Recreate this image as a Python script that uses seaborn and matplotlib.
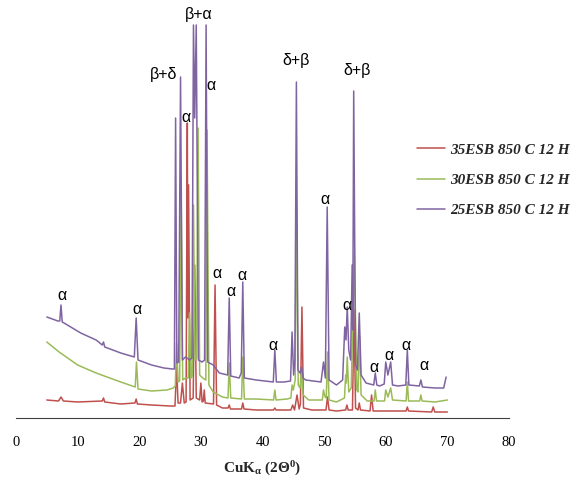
import matplotlib
matplotlib.use("Agg")
import matplotlib.pyplot as plt
from matplotlib.ticker import MultipleLocator
import pandas as pd
import seaborn as sns

# ---------------- data ----------------
samples = ["35ESB 850 C 12 H", "30ESB 850 C 12 H", "25ESB 850 C 12 H"]
colors = ["#C0504D", "#9BBB59", "#8064A2"]

# 25ESB (purple)
p_theta = [5.0, 6.8, 7.1, 7.3, 7.5, 7.8, 10.5, 13.0, 14.0, 14.2, 14.4, 17.0, 19.2, 19.5, 19.8,
           22.0, 24.0, 25.4, 25.7, 25.9, 26.1, 26.4, 26.7, 27.0, 27.5, 28.2, 28.55, 28.8, 29.0,
           29.25, 29.6, 30.2, 30.6, 30.85, 31.1, 32.0, 33.0, 34.35, 34.6, 34.85, 36.2, 36.55,
           36.8, 37.05, 39.0, 41.75, 42.0, 42.25, 43.5, 44.55, 44.8, 45.05, 45.25, 45.5, 45.75,
           46.1, 46.35, 46.6, 47.0, 49.5, 49.9, 50.2, 50.5, 50.8, 52.0, 53.0, 53.35, 53.55,
           53.75, 54.0, 54.3, 54.55, 54.65, 54.8, 55.1, 55.4, 55.7, 56.0, 56.8, 58.05, 58.3,
           58.55, 59.0, 59.75, 60.0, 60.35, 60.8, 61.1, 62.0, 63.25, 63.5, 63.75, 65.45, 65.7,
           65.95, 68.0, 69.4, 69.8]
p_int = [101, 97, 97, 113, 96, 95, 85, 78, 73, 76, 71, 65, 61, 100, 58,
         53, 50, 49, 49, 300, 55, 56, 341, 58, 61, 58, 60, 393, 300,
         393, 58, 56, 58, 393, 56, 53, 45, 43, 120, 42, 40, 45,
         136, 40, 38, 36, 68, 36, 36, 37, 86, 43, 58, 336, 48,
         45, 51, 40, 38, 36, 56, 40, 211, 38, 33, 38, 91, 78,
         111, 68, 58, 153, 88, 327, 53, 48, 105, 43, 35, 33, 45,
         33, 32, 34, 56, 43, 56, 33, 32, 33, 68, 33, 32, 38,
         31, 30, 30, 41]

# 30ESB (green)
g_theta = [5.0, 7.0, 10.0, 13.0, 17.0, 19.35, 19.55, 19.8, 22.0, 24.5, 25.5, 25.85, 26.05, 26.3,
           26.55, 26.8, 27.05, 27.5, 27.95, 28.15, 28.4, 28.6, 28.8, 29.05, 29.3, 29.55, 29.8,
           30.3, 30.8, 31.0, 31.3, 32.0, 33.5, 34.4, 34.6, 34.85, 36.6, 36.8, 37.05, 39.0, 41.8,
           42.0, 42.2, 44.0, 44.6, 44.8, 45.0, 45.3, 45.5, 45.8, 46.1, 46.3, 46.6, 47.5, 49.7,
           49.9, 50.15, 50.35, 50.55, 50.8, 52.0, 53.3, 53.5, 53.6, 53.75, 54.0, 54.4, 54.9,
           55.3, 55.5, 55.75, 56.0, 57.0, 58.1, 58.3, 58.5, 59.8, 60.0, 60.35, 60.8, 61.1, 63.3,
           63.5, 63.7, 65.5, 65.7, 65.9, 68.0, 70.0]
g_int = [76, 66, 53, 45, 36, 31, 56, 29, 27, 28, 30, 32, 75, 36,
         37, 218, 38, 40, 40, 105, 40, 42, 213, 58, 60, 290, 43,
         40, 38, 288, 33, 26, 21, 20, 55, 20, 19, 61, 19, 19, 18,
         28, 18, 19, 20, 33, 28, 38, 220, 33, 30, 48, 23, 18, 18,
         28, 21, 20, 66, 18, 16, 20, 43, 35, 61, 26, 30, 165,
         28, 26, 81, 23, 17, 17, 28, 17, 17, 28, 21, 30, 18, 17,
         36, 17, 17, 23, 17, 16, 18]

# 35ESB (red)
r_theta = [5.0, 6.9, 7.3, 7.7, 10.0, 14.0, 14.2, 14.4, 17.0, 19.3, 19.5, 19.7, 22.0, 25.0, 25.8,
           26.05, 26.3, 26.7, 27.0, 27.3, 27.6, 27.8, 27.9, 28.0, 28.25, 28.75, 29.0, 29.25,
           29.8, 30.0, 30.2, 30.4, 30.55, 30.7, 32.05, 32.3, 32.55, 33.5, 34.4, 34.6, 34.8,
           36.6, 36.8, 37.0, 39.0, 41.8, 42.0, 42.2, 44.6, 44.9, 45.2, 45.6, 45.95, 46.15, 46.4,
           46.65, 48.0, 50.3, 50.55, 50.8, 52.0, 53.5, 53.7, 53.9, 54.6, 54.85, 55.1, 55.5,
           55.7, 55.9, 57.45, 57.7, 57.95, 60.0, 63.3, 63.5, 63.7, 67.45, 67.7, 67.95, 70.0]
r_int = [18, 17, 21, 17, 16, 17, 20, 16, 14, 15, 19, 14, 13, 12, 12,
         51, 15, 15, 35, 15, 16, 295, 100, 233, 18, 20, 153, 20,
         18, 35, 16, 17, 28, 15, 14, 133, 13, 10, 10, 13, 9,
         9, 15, 9, 8, 8, 10, 8, 8, 13, 8, 23, 9, 14, 111,
         10, 8, 8, 21, 8, 7, 8, 13, 8, 8, 108, 10, 8,
         15, 8, 7, 23, 7, 7, 7, 11, 7, 6, 11, 6, 6]

# phase annotations
ann_text = ["α", "α", "β+δ", "α", "β+α", "α", "α", "α", "α", "α", "δ+β", "α", "α", "δ+β",
            "α", "α", "α", "α"]
ann_theta = [7.46, 19.6, 24.0, 27.6, 29.7, 31.6, 32.6, 34.9, 36.7, 41.7, 45.4, 50.1, 53.7, 55.3,
             58.1, 60.5, 63.3, 66.2]
ann_int = [123, 109, 344, 300, 403, 333, 144, 126, 142, 73, 358, 218, 112, 348,
           50, 63, 73, 52]

x_ticks = [0, 10, 20, 30, 40, 50, 60, 70, 80]

# ---------------- build table ----------------
frames = []
for name, th, it in zip(samples, [r_theta, g_theta, p_theta], [r_int, g_int, p_int]):
    frames.append(pd.DataFrame({"two_theta": th, "intensity": it, "sample": name}))
df = pd.concat(frames, ignore_index=True)

# ---------------- plot ----------------
sns.set_theme(style="white")
plt.rcParams["font.family"] = ["Liberation Serif", "DejaVu Serif"]
plt.rcParams["mathtext.fontset"] = "custom"
plt.rcParams["mathtext.rm"] = "Liberation Serif:bold"
plt.rcParams["mathtext.it"] = "Liberation Serif:bold"
plt.rcParams["mathtext.bf"] = "Liberation Serif:bold"

fig = plt.figure(figsize=(5.71, 4.84), dpi=100)
ax = fig.add_axes([16 / 571, 66 / 484, 493 / 571, 408 / 484])

sns.lineplot(data=df, x="two_theta", y="intensity", hue="sample", hue_order=samples,
             palette=colors, estimator=None, sort=False, linewidth=1.1, ax=ax)

ax.set_xlim(0, 80)
ax.set_ylim(0, 408)
ax.set_xticks(x_ticks)
ax.set_xticklabels([str(t) for t in x_ticks])
ax.xaxis.set_minor_locator(MultipleLocator(2))
ax.set_yticks([])
ax.set_ylabel("")
ax.set_xlabel("CuK$_{\\alpha}$ (2Θ$^{0}$)", fontsize=11, fontweight="bold", labelpad=8)
ax.tick_params(axis="x", which="both", direction="out", length=4, width=0.8,
               color="#404040", labelsize=10.5, pad=9, labelcolor="black")
for s in ["left", "right", "top"]:
    ax.spines[s].set_visible(False)
ax.spines["bottom"].set_color("#404040")
ax.spines["bottom"].set_linewidth(0.8)

for t, x, y in zip(ann_text, ann_theta, ann_int):
    ax.text(x, y, t, ha="center", va="center", fontsize=11.5,
            family=["Liberation Sans", "DejaVu Sans"], color="black")

handles, labels = ax.get_legend_handles_labels()
ax.get_legend().remove()
fig.legend(handles, labels, loc="upper left", bbox_to_anchor=(417 / 571, 1 - 143 / 484),
           frameon=False, borderpad=0, borderaxespad=0, handlelength=1.85,
           handletextpad=0.35, labelspacing=1.08,
           prop={"family": "Liberation Serif", "weight": "bold", "style": "italic", "size": 11})

fig.savefig("out.png", dpi=100)
